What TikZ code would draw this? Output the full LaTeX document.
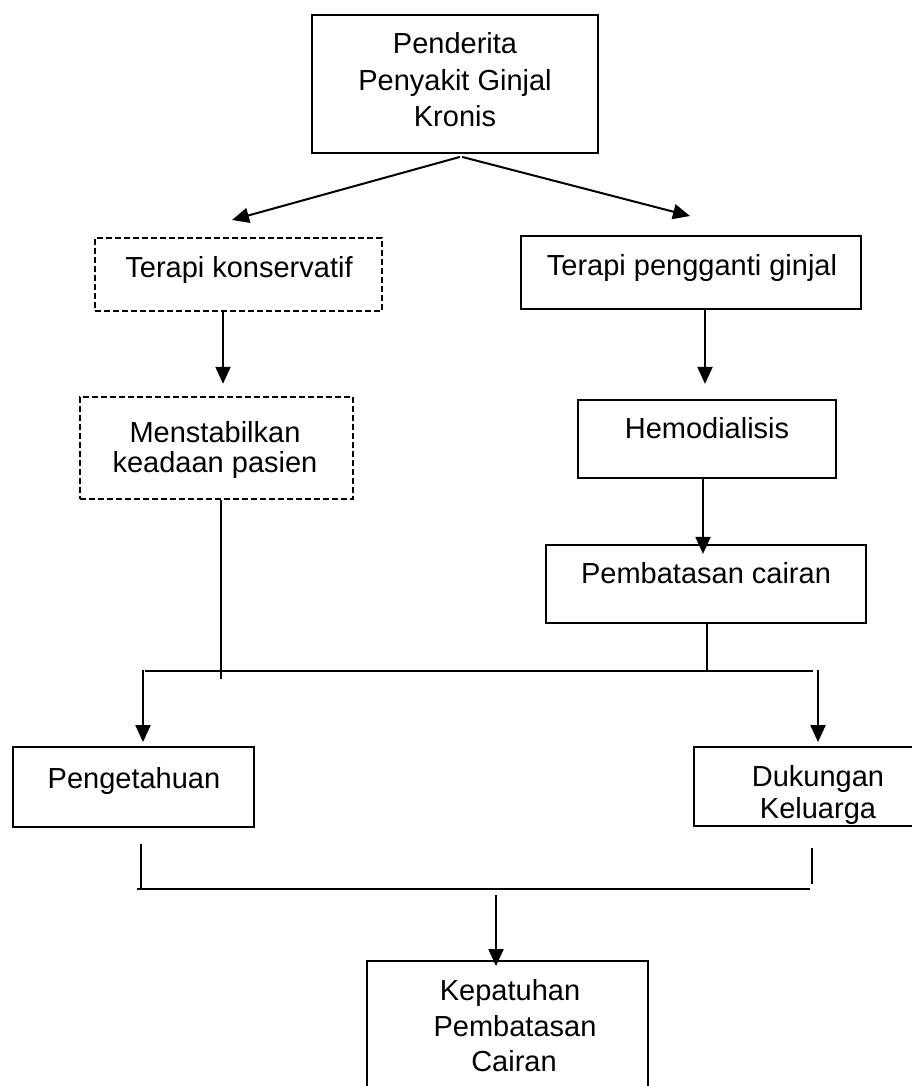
\documentclass[tikz,border=0pt]{standalone}
\usepackage{fontspec}
\setmainfont{Liberation Sans}
\usetikzlibrary{arrows.meta}
\begin{document}
\begin{tikzpicture}[x=1pt,y=-1pt,
  box/.style={draw=black, line width=1.8pt, inner sep=0pt},
  dbox/.style={box, dash pattern=on 6pt off 3pt, line width=1.6pt},
  txt/.style={inner sep=0pt, anchor=base, font=\fontsize{29}{35}\selectfont},
  arr/.style={line width=2pt, -{Triangle[width=15pt,length=17pt]}},
  ln/.style={line width=1.7pt}]
\path[use as bounding box] (0,0) rectangle (912,1086);
\clip (0,0) rectangle (912,1086);
% boxes
\node[box, minimum width=286pt, minimum height=138pt] (top) at (455,84) {};
\node[dbox, minimum width=287pt, minimum height=73pt] (tk) at (238.5,274.5) {};
\node[dbox, minimum width=273pt, minimum height=102pt] (men) at (216.5,448) {};
\node[box, minimum width=340pt, minimum height=73pt] (tpg) at (691,272.5) {};
\node[box, minimum width=258pt, minimum height=78pt] (hemo) at (707,439) {};
\node[box, minimum width=320pt, minimum height=78pt] (pemb) at (706,584) {};
\node[box, minimum width=241pt, minimum height=80pt] (peng) at (133.5,787) {};
\node[box, minimum width=248pt, minimum height=79pt] (duk) at (818,786.5) {};
\node[box, minimum width=281pt, minimum height=139pt] (kep) at (507.5,1030.5) {};
% texts
\node[txt] (topA) at (455,54) {Penderita};
\node[txt] (topB) at (455,90.5) {Penyakit Ginjal};
\node[txt] (topC) at (455,127) {Kronis};
\node[txt] (tkT) at (239,277) {Terapi konservatif};
\node[txt] (menA) at (215,442) {Menstabilkan};
\node[txt] (menB) at (215,472) {keadaan pasien};
\node[txt] (tpgT) at (692,275) {Terapi pengganti ginjal};
\node[txt] (hemoT) at (707,438) {Hemodialisis};
\node[txt] (pembT) at (706,583) {Pembatasan cairan};
\node[txt] (pengT) at (134,788) {Pengetahuan};
\node[txt] (dukA) at (818,786) {Dukungan};
\node[txt] (dukB) at (818,818) {Keluarga};
\node[txt] (kepA) at (510,1000) {Kepatuhan};
\node[txt] (kepB) at (515,1036) {Pembatasan};
\node[txt] (kepC) at (514,1071) {Cairan};
% connector points
\coordinate (tkIn) at (232,220);
\coordinate (tpgIn) at (690,216);
\coordinate (busL) at (145,671);
\coordinate (busR) at (813,671);
\coordinate (botL) at (137,889);
\coordinate (botR) at (810,889);
% connectors
\draw[arr] ([xshift=5pt,yshift=-3pt]top.south) -- (tkIn);
\draw[arr] ([xshift=7pt,yshift=-3pt]top.south) -- (tpgIn);
\draw[arr] ([xshift=-15.5pt]tk.south) -- ++(0,72);
\draw[arr] ([xshift=14pt]tpg.south) -- ++(0,74);
\draw[arr] ([xshift=-4pt]hemo.south) -- ++(0,75);
\draw[ln] ([xshift=4.5pt]men.south) -- ++(0,179);
\draw[ln] ([xshift=1pt]pemb.south) -- ++(0,47);
\draw[ln] (busL) -- (busR);
\draw[arr] ([xshift=9.5pt,yshift=76pt]peng.north) -- ([xshift=9.5pt,yshift=4pt]peng.north);
\draw[arr] ([yshift=76pt]duk.north) -- ([yshift=4pt]duk.north);
\draw[ln] ([xshift=7.5pt,yshift=-16pt]peng.south) -- ++(0,46);
\draw[ln] ([xshift=-6pt,yshift=-21.5pt]duk.south) -- ++(0,36);
\draw[ln] (botL) -- (botR);
\draw[arr] ([xshift=-11.5pt,yshift=65pt]kep.north) -- ([xshift=-11.5pt,yshift=-6pt]kep.north);
\end{tikzpicture}
\end{document}
